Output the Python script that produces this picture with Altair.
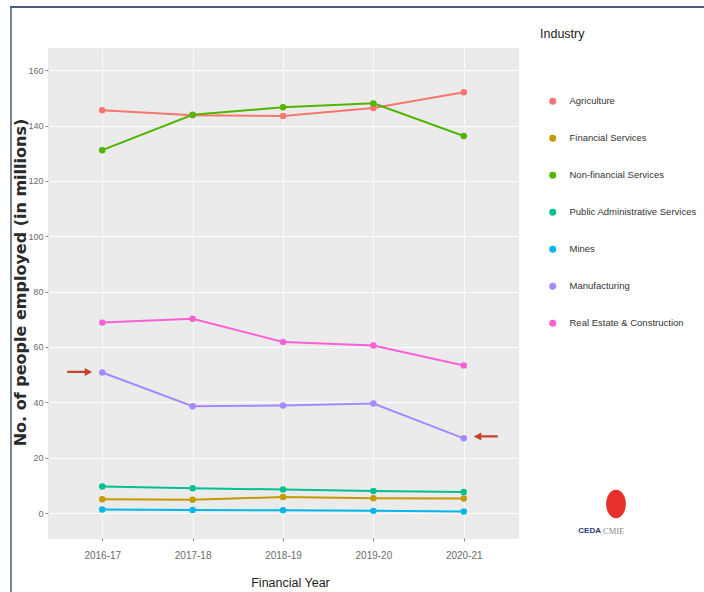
import altair as alt
import pandas as pd

years = ["2016-17", "2017-18", "2018-19", "2019-20", "2020-21"]
industries = ["Agriculture", "Financial Services", "Non-financial Services",
              "Public Administrative Services", "Mines", "Manufacturing",
              "Real Estate & Construction"]
colors = ["#F8766D", "#C49A00", "#53B400", "#00C094", "#00B6EB", "#A58AFF", "#FB61D7"]

agriculture = [145.5, 143.7, 143.4, 146.3, 152.0]
financial = [5.0, 4.8, 5.8, 5.4, 5.3]
non_financial = [131.1, 143.9, 146.6, 148.0, 136.2]
public_admin = [9.6, 9.0, 8.5, 8.0, 7.6]
mines = [1.3, 1.1, 1.0, 0.8, 0.6]
manufacturing = [50.8, 38.6, 38.9, 39.6, 27.0]
real_estate = [68.8, 70.2, 61.8, 60.5, 53.3]

series = [agriculture, financial, non_financial, public_admin, mines, manufacturing, real_estate]
rows = []
for ind, vals in zip(industries, series):
    for y, v in zip(years, vals):
        rows.append({"year": y, "industry": ind, "value": v})
df = pd.DataFrame(rows)

# annotation arrows pointing at Manufacturing
arrow_years = ["2016-17", "2020-21"]
arrow_values = [51.0, 27.7]
arrow_shapes = [
    "M-3.5,-0.11 L-1.75,-0.11 L-1.75,-0.4 L-1.0,0 L-1.75,0.4 L-1.75,0.11 L-3.5,0.11 Z",
    "M3.4,-0.11 L1.75,-0.11 L1.75,-0.4 L1.0,0 L1.75,0.4 L1.75,0.11 L3.4,0.11 Z",
]

FONT = "Liberation Sans"
PANEL = "#EBEBEB"

x_enc = alt.X("year:N", sort=years,
              scale=alt.Scale(type="point", padding=0.6),
              axis=alt.Axis(title="Financial Year", labelAngle=0, grid=True,
                            gridColor="white", gridWidth=0.8, domain=False,
                            tickColor="#8a8a8a", tickSize=3, labelColor="#6b6b6b",
                            labelFontSize=10, labelFont=FONT, labelPadding=9,
                            titleFont=FONT, titleFontSize=12.5, titleFontWeight="normal",
                            titleColor="#222", titleX=242, titleY=44,
                            titleBaseline="middle"))
y_enc = alt.Y("value:Q",
              scale=alt.Scale(domain=[-9, 168], nice=False, zero=False),
              axis=alt.Axis(title="No. of people employed (in millions)",
                            values=[0, 20, 40, 60, 80, 100, 120, 140, 160],
                            grid=True, gridColor="white", gridWidth=1.2, domain=False,
                            tickColor="#8a8a8a", tickSize=3, labelColor="#6b6b6b",
                            labelFontSize=9, labelFont=FONT, labelPadding=2,
                            titleFont="DejaVu Sans", titleFontSize=16,
                            titleFontWeight="bold", titleColor="#2a2a2a",
                            titleX=-28, titleY=234, titleAlign="center",
                            titleBaseline="middle"))
color_enc = alt.Color("industry:N",
                      scale=alt.Scale(domain=industries, range=colors),
                      legend=alt.Legend(title="Industry", orient="none",
                                        legendX=492, legendY=-20,
                                        symbolType="circle", symbolSize=30,
                                        symbolOffset=8,
                                        titleFont=FONT, titleFontSize=12.5,
                                        titleFontWeight="normal", titleColor="#222",
                                        titlePadding=56,
                                        labelFont=FONT, labelFontSize=9.5,
                                        labelColor="#333", labelOffset=12,
                                        rowPadding=25))

base = alt.Chart(df)
lines = base.mark_line(strokeWidth=2).encode(x=x_enc, y=y_enc, color=color_enc,
                                             detail="industry:N")
points = base.mark_circle(size=42, opacity=1).encode(x=x_enc, y=y_enc, color=color_enc)

arrow_layers = []
for yr, val, shp in zip(arrow_years, arrow_values, arrow_shapes):
    adf = pd.DataFrame({"year": [yr], "value": [val]})
    arrow_layers.append(
        alt.Chart(adf).mark_point(shape=shp, filled=True, color="#c0452b",
                                  opacity=1, size=400).encode(
            x=alt.X("year:N", sort=years), y="value:Q"))

logo_shape = alt.Chart(pd.DataFrame({"t": ["logo"]})).mark_point(
    shape="M0,-1 A0.7,1 0 1,1 0,1 A0.7,1 0 1,1 0,-1 Z",
    filled=True, color="#e8302a", opacity=1, size=800
).encode(x=alt.value(568), y=alt.value(456))
logo_text1 = alt.Chart(pd.DataFrame({"t": ["CEDA"]})).mark_text(
    fontSize=8, fontWeight="bold", color="#1f3a6e", align="right", font="Liberation Sans",
    baseline="middle"
).encode(x=alt.value(553), y=alt.value(483), text="t:N")
logo_text2 = alt.Chart(pd.DataFrame({"t": ["CMIE"]})).mark_text(
    fontSize=8.5, color="#888", align="left", font="Liberation Serif", baseline="middle"
).encode(x=alt.value(555), y=alt.value(483), text="t:N")

# screenshot frame lines
frame_df = pd.DataFrame({"t": ["frame"]})
frame_top = alt.Chart(frame_df).mark_rule(color="#4a5d7a", strokeWidth=2).encode(
    x=alt.value(-38), x2=alt.value(656), y=alt.value(-41))
frame_left = alt.Chart(frame_df).mark_rule(color="#4a5d7a", strokeWidth=1.5).encode(
    x=alt.value(-37), y=alt.value(-41), y2=alt.value(544))

chart = alt.layer(lines, points, *arrow_layers, logo_shape, logo_text1, logo_text2,
                  frame_top, frame_left).properties(
    width=470, height=490,
    autosize=alt.AutoSizeParams(type="none"),
    padding={"left": 48, "top": 48, "right": 186, "bottom": 54},
    view=alt.ViewBackground(fill=PANEL, stroke=PANEL, strokeWidth=1),
).configure_view(fill=PANEL, stroke=PANEL, strokeWidth=1).configure(
    background="white")

chart.save("out.html", embed_options={"renderer": "svg", "actions": False})
